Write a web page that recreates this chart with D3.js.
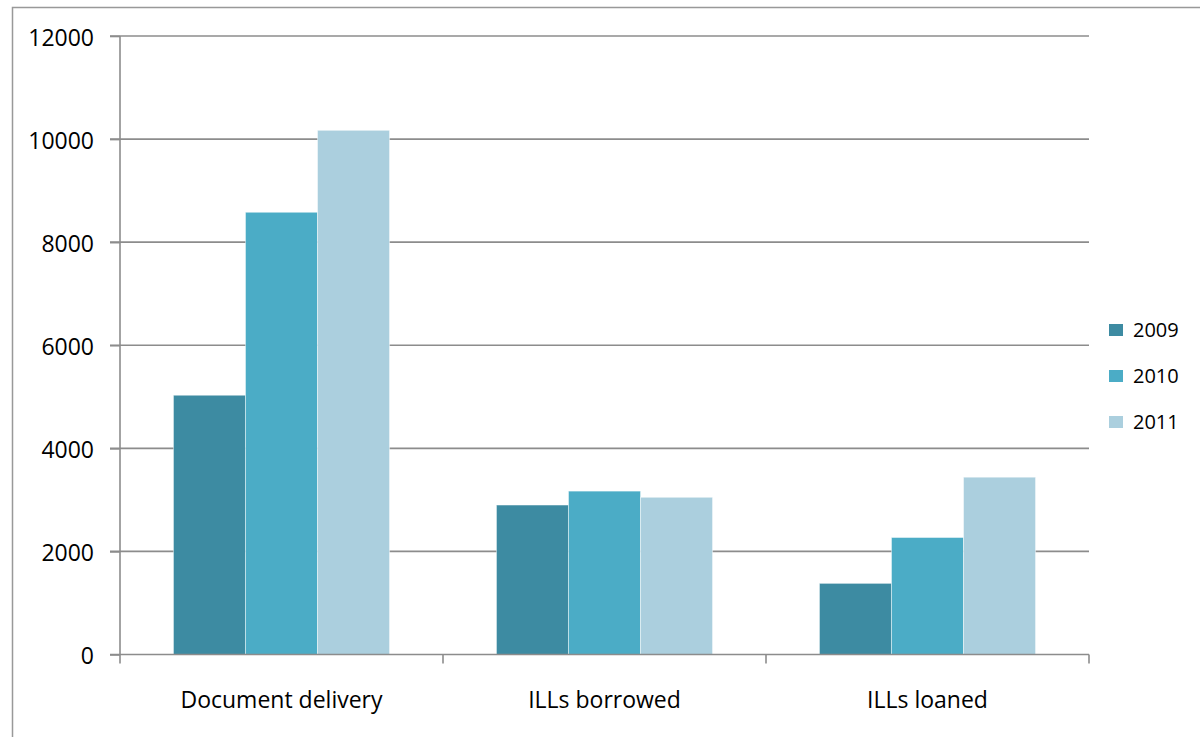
<!DOCTYPE html>
<html><head><meta charset="utf-8">
<script src="https://cdn.jsdelivr.net/npm/d3@7"></script>
<style>body{margin:0;background:#fff;}svg{display:block;}</style>
</head><body><svg id="c" width="1200" height="737"></svg>
<script>
const categories = ["Document delivery", "ILLs borrowed", "ILLs loaned"];
const years = ["2009", "2010", "2011"];
const values2009 = [5030, 2900, 1380];
const values2010 = [8580, 3170, 2270];
const values2011 = [10170, 3050, 3440];
const yTicks = [0, 2000, 4000, 6000, 8000, 10000, 12000];
const colors = ["#3d8ba2", "#4bacc6", "#abcfde"];

(function () {
const series = [values2009, values2010, values2011];
const svg = d3.select("#c");
const font = "Open Sans, sans-serif";

// outer frame
svg.append("rect").attr("x", 12.5).attr("y", 7.5).attr("width", 1300).attr("height", 800)
  .attr("fill", "none").attr("stroke", "#999").attr("stroke-width", 1.5);

const pL = 120, pR = 1089, pT = 36, pB = 654.5;
const x0 = d3.scaleBand().domain(categories).range([pL, pR]).padding(0);
const y = d3.scaleLinear().domain([0, 12000]).range([pB, pT]);
const bw = x0.bandwidth();
const gap = bw * 0.1655;
const x1 = d3.scaleBand().domain(years).range([gap, bw - gap]).padding(0);

// gridlines
svg.append("g").selectAll("line").data(yTicks.filter(d => d > 0)).join("line")
  .attr("x1", pL - 10).attr("x2", pR).attr("y1", d => y(d)).attr("y2", d => y(d))
  .attr("stroke", "#8c8c8c").attr("stroke-width", 1.6);

// bars
const g = svg.append("g");
categories.forEach((c, ci) => {
  years.forEach((yr, si) => {
    const v = series[si][ci];
    g.append("rect")
      .attr("x", x0(c) + x1(yr)).attr("width", x1.bandwidth())
      .attr("y", y(v)).attr("height", y(0) - y(v))
      .attr("fill", colors[si]).attr("stroke", "rgba(255,255,255,0.45)").attr("stroke-width", 1);
  });
});

// y axis
const yAxis = d3.axisLeft(y).tickValues(yTicks).tickSize(10).tickPadding(16).tickFormat(d3.format("d"));
const ya = svg.append("g").attr("transform", `translate(${pL},0)`).call(yAxis);
ya.select(".domain").attr("stroke", "#8c8c8c").attr("stroke-width", 1.6).attr("d", `M0,${pT}V${pB}`);
ya.selectAll(".tick line").attr("stroke", "#8c8c8c").attr("stroke-width", 1.6);
ya.selectAll(".tick text").attr("font-family", font).attr("font-size", 23).attr("fill", "#000").attr("dy", "0.4em");

// x axis
const xa = svg.append("g").attr("transform", `translate(0,${pB})`);
xa.append("line").attr("x1", pL - 10).attr("x2", pR).attr("stroke", "#8c8c8c").attr("stroke-width", 1.6);
const bounds = [pL, ...categories.map(c => x0(c) + bw)];
xa.selectAll("line.t").data(bounds).join("line").attr("class", "t")
  .attr("x1", d => d).attr("x2", d => d).attr("y1", 0).attr("y2", 9)
  .attr("stroke", "#8c8c8c").attr("stroke-width", 1.6);
xa.selectAll("text").data(categories).join("text")
  .attr("x", d => x0(d) + bw / 2).attr("y", 53.5)
  .attr("text-anchor", "middle").attr("font-family", font).attr("font-size", 23).attr("fill", "#000")
  .text(d => d);

// legend
const lg = svg.append("g").attr("transform", "translate(1109,330)");
years.forEach((yr, i) => {
  const row = lg.append("g").attr("transform", `translate(0,${i * 46})`);
  row.append("rect").attr("x", 0).attr("y", -6).attr("width", 14).attr("height", 12).attr("fill", colors[i]);
  row.append("text").attr("x", 24).attr("y", 0).attr("dy", "0.36em")
    .attr("font-family", font).attr("font-size", 20).attr("fill", "#000").text(yr);
});
})();
</script></body></html>
